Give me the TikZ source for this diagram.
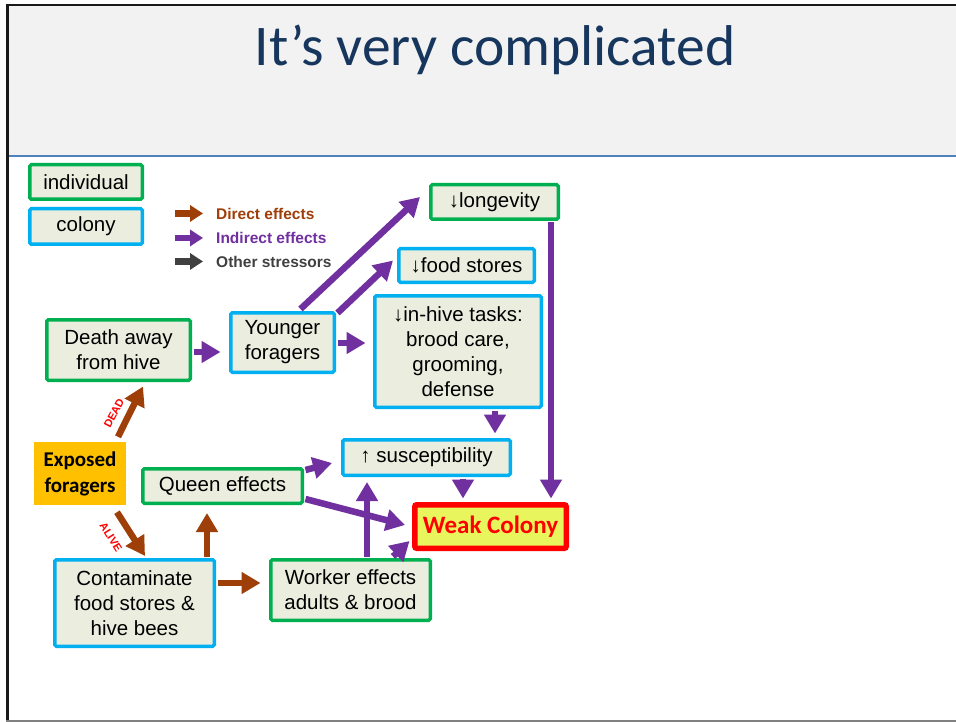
\documentclass[tikz,border=0pt]{standalone}
\usepackage{fontspec}
\setmainfont{Liberation Sans}
\newfontfamily\calibri{Carlito}
\usetikzlibrary{arrows.meta,calc}
\definecolor{boxfill}{RGB}{235,238,223}
\definecolor{indgreen}{RGB}{0,176,80}
\definecolor{colcyan}{RGB}{0,176,240}
\definecolor{effpurple}{RGB}{112,48,160}
\definecolor{effbrown}{RGB}{158,62,8}
\definecolor{stressgray}{RGB}{64,64,64}
\definecolor{titlenavy}{RGB}{23,54,93}
\definecolor{titleband}{RGB}{242,242,242}
\definecolor{ruleblue}{RGB}{79,129,189}
\definecolor{weakfill}{RGB}{232,245,92}
\definecolor{forager}{RGB}{255,192,0}

\begin{document}
\begin{tikzpicture}[x=1pt,y=-1pt,
  box/.style={draw, fill=boxfill, line width=3.5pt, rounded corners=1.5pt,
    inner sep=0pt, align=center, text=black,
    font=\fontsize{20.5}{25}\selectfont},
  indiv/.style={box, draw=indgreen},
  colon/.style={box, draw=colcyan},
  eff/.style={line width=6.5pt, -{Triangle[width=21pt,length=19pt]}},
  indirect/.style={eff, draw=effpurple},
  direct/.style={eff, draw=effbrown},
  legarrow/.style={line width=6.5pt, -{Triangle[width=16pt,length=13pt]}},
  legtext/.style={anchor=base west, inner sep=0pt,
    font=\bfseries\fontsize{15.5}{18}\selectfont},
  fate/.style={text=red, inner sep=0pt,
    font=\bfseries\fontsize{11}{13}\selectfont}
]
\useasboundingbox (0,0) rectangle (956,722);

% slide background, title band and frame
\fill[white] (0,0) rectangle (956,722);
\fill[titleband] (8.5,6.3) rectangle (956,155);
\draw[ruleblue, line width=2.2pt] (8.5,156) -- (956,156);
\draw[black!90, line width=2.6pt] (6,5) -- (956,5);
\draw[black!90, line width=2.7pt] (7.3,4) -- (7.3,722);
\draw[gray, line width=2pt] (6,721) -- (956,721);

\node[anchor=base, inner sep=0pt, text=titlenavy,
  font=\calibri\fontsize{57.5}{62}\selectfont] (title) at (495,66)
  {It’s very complicated};

% key
\node[indiv, minimum width=112.5pt, minimum height=34.5pt] (individual) at (86,182) {individual};
\node[colon, minimum width=112.5pt, minimum height=35.5pt] (colony) at (86,226.5) {colony};

\node[legtext, text=effbrown] (ldirect) at (216,220) {Direct effects};
\node[legtext, text=effpurple] (lindirect) at (216,243.5) {Indirect effects};
\node[legtext, text=stressgray] (lother) at (216,267) {Other stressors};
\draw[legarrow, effbrown] ($(ldirect.west)+(-41,-1)$) -- ($(ldirect.west)+(-13,-1)$);
\draw[legarrow, effpurple] ($(lindirect.west)+(-41,0)$) -- ($(lindirect.west)+(-13,0)$);
\draw[legarrow, stressgray] ($(lother.west)+(-41,0)$) -- ($(lother.west)+(-13,0)$);

% effect boxes
\node[indiv, minimum width=127.5pt, minimum height=34.5pt] (longevity) at (494.5,202) {↓longevity};
\node[colon, minimum width=135.5pt, minimum height=33.5pt] (food) at (466.5,265.5) {↓food stores};
\node[colon, minimum width=166.5pt, minimum height=111.5pt] (inhive) at (458,351.5)
  {↓in-hive tasks:\\brood care,\\grooming,\\defense};
\node[colon, minimum width=103.5pt, minimum height=59.5pt] (younger) at (282.5,342.5) {Younger\\foragers};
\node[indiv, minimum width=143.5pt, minimum height=60.5pt] (death) at (118.5,350) {Death away\\from hive};
\node[fill=forager, minimum width=92pt, minimum height=63pt, inner sep=0pt, align=center,
  font=\calibri\bfseries\fontsize{21}{26}\selectfont] (exposed) at (80,473.5) {Exposed\\foragers};
\node[indiv, minimum width=159.5pt, minimum height=34.5pt] (queen) at (222.5,486) {Queen effects};
\node[colon, minimum width=167.5pt, minimum height=35.5pt] (susc) at (426.5,457.5) {↑ susceptibility};
\node[draw=red, line width=5.5pt, fill=weakfill, rounded corners=2pt,
  minimum width=151.5pt, minimum height=43.5pt, inner sep=0pt, text=red,
  font=\calibri\bfseries\fontsize{25}{30}\selectfont] (weak) at (490.5,526.5) {Weak Colony};
\node[indiv, minimum width=159.5pt, minimum height=60.5pt] (worker) at (350.5,590)
  {Worker effects\\adults \& brood};
\node[colon, minimum width=159.5pt, minimum height=86.5pt] (contam) at (134.5,603)
  {Contaminate\\food stores \&\\hive bees};

% indirect effects
\draw[indirect] ($(death.east)+(1.5,2)$) -- ($(younger.west)+(-8.5,9.5)$);
\draw[indirect] ($(younger.east)+(1.5,0.5)$) -- ($(inhive.west)+(-7.5,-8.5)$);
\draw[indirect] ($(younger.north east)+(1.5,2)$) -- ($(food.west)+(-4,-5)$);
\draw[indirect] ($(younger.north)+(18,-2)$) -- ($(longevity.west)+(-9,-5)$);
\draw[indirect] ($(inhive.south)+(37,1.5)$) -- ($(susc.north)+(68.5,-4.5)$);
\draw[indirect] ($(longevity.south)+(56.5,1.5)$) -- ($(weak.north)+(60.5,-3.5)$);
\draw[indirect] ($(susc.south)+(36.5,1.5)$) -- ($(weak.north)+(-27.5,-3.5)$);
\draw[indirect] ($(queen.east)+(1.5,-16)$) -- ($(susc.west)+(-9,5.5)$);
\draw[indirect] ($(queen.east)+(1.5,13)$) -- ($(weak.west)+(-7,-1.5)$);
\draw[indirect] ($(worker.north)+(16.5,-1.5)$) -- ($(susc.south)+(-59.5,5)$);
\draw[indirect] ($(worker.north)+(42.5,-1.5)$) -- ($(weak.south west)+(-2.5,-10)$);

% direct effects
\draw[direct] ($(exposed.north)+(38,-5)$) -- ($(death.south)+(24.5,4.5)$);
\draw[direct] ($(exposed.south)+(37,7)$) -- ($(contam.north)+(10.5,-2)$);
\draw[direct] ($(contam.north)+(72.5,-1.5)$) -- ($(queen.south)+(-15.5,8)$);
\draw[direct] ($(contam.east)+(1.5,-20)$) -- ($(worker.west)+(-8.5,-7)$);

\node[fate, rotate=62] (dead) at (114,413) {DEAD};
\node[fate, rotate=-58] (alive) at (111,537) {ALIVE};
\end{tikzpicture}
\end{document}
